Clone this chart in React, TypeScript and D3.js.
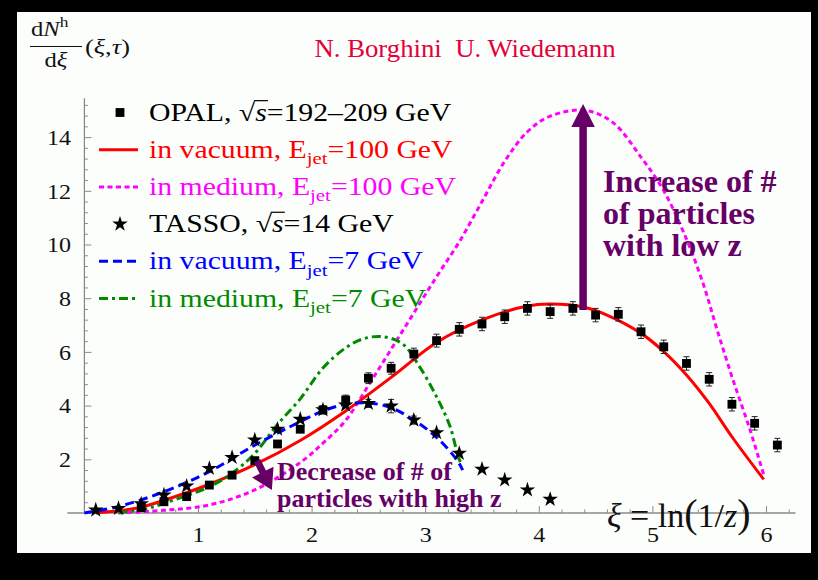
import { useEffect, useRef } from 'react';
import * as d3 from 'd3';

// OPAL, sqrt(s) = 192-209 GeV (squares)
const opalXi = [0.5, 0.7, 0.9, 1.1, 1.3, 1.5, 1.7, 1.9, 2.1, 2.3, 2.5, 2.7, 2.9, 3.1, 3.3, 3.5, 3.7, 3.9, 4.1, 4.3, 4.5, 4.7, 4.9, 5.1, 5.3, 5.5, 5.7, 5.9, 6.1];
const opalValues = [0.2, 0.42, 0.61, 1.04, 1.41, 1.95, 2.57, 3.12, 3.84, 4.21, 5.02, 5.39, 5.92, 6.42, 6.84, 7.04, 7.31, 7.62, 7.5, 7.62, 7.37, 7.4, 6.75, 6.19, 5.57, 4.98, 4.05, 3.34, 2.53];
const opalErrors = [0.05, 0.05, 0.05, 0.08, 0.08, 0.1, 0.1, 0.12, 0.15, 0.18, 0.2, 0.22, 0.22, 0.24, 0.25, 0.25, 0.25, 0.25, 0.25, 0.25, 0.25, 0.25, 0.25, 0.25, 0.25, 0.25, 0.25, 0.25, 0.25];

// TASSO, sqrt(s) = 14 GeV (stars)
const tassoXi = [0.1, 0.3, 0.5, 0.7, 0.9, 1.1, 1.3, 1.5, 1.7, 1.9, 2.1, 2.3, 2.5, 2.7, 2.9, 3.1, 3.3, 3.5, 3.7, 3.9, 4.1];
const tassoValues = [0.11, 0.17, 0.34, 0.67, 1.0, 1.66, 2.07, 2.72, 3.12, 3.49, 3.84, 4.02, 4.08, 3.98, 3.46, 2.99, 2.22, 1.63, 1.23, 0.86, 0.51];
const tassoErrors = [0, 0, 0, 0, 0, 0, 0, 0, 0, 0, 0.05, 0.1, 0.15, 0.25, 0.15, 0.1, 0, 0, 0, 0, 0];

// theory curves, [xi, dN/dxi]
const vacuum100: [number, number][] = [
  [0.1, 0.0], [0.3, 0.08], [0.5, 0.22], [0.7, 0.47], [1.1, 1.07], [1.5, 1.8], [1.9, 2.7], [2.3, 3.8],
  [2.7, 5.05], [3.1, 6.35], [3.5, 7.19], [3.9, 7.71], [4.1, 7.78], [4.4, 7.66], [4.6, 7.37], [4.9, 6.69],
  [5.1, 6.01], [5.3, 5.14], [5.5, 4.08], [5.7, 2.84], [5.98, 1.25],
];
const medium100: [number, number][] = [
  [0.3, 0.0], [0.7, 0.1], [1.1, 0.3], [1.5, 0.86], [1.9, 1.88], [2.1, 2.6], [2.3, 3.45], [2.5, 4.75],
  [2.7, 6.1], [2.9, 7.45], [3.1, 8.8], [3.3, 10.1], [3.5, 11.6], [3.7, 13.1], [3.9, 14.2], [4.1, 14.78],
  [4.4, 15.0], [4.65, 14.55], [4.9, 13.25], [5.1, 12.0], [5.3, 10.2], [5.45, 8.5], [5.57, 6.82],
  [5.71, 4.95], [5.86, 3.09], [5.98, 1.42],
];
const vacuum7: [number, number][] = [
  [0.0, 0.0], [0.3, 0.24], [0.7, 0.79], [1.1, 1.54], [1.5, 2.53], [1.9, 3.4], [2.1, 3.8], [2.3, 4.05],
  [2.5, 4.1], [2.7, 3.92], [2.9, 3.46], [3.1, 2.82], [3.28, 1.97], [3.33, 1.6],
];
const medium7: [number, number][] = [
  [0.3, 0.02], [0.5, 0.11], [0.7, 0.36], [1.1, 0.98], [1.3, 1.48], [1.5, 2.22], [1.7, 3.3], [1.9, 4.25],
  [2.1, 5.4], [2.3, 6.15], [2.45, 6.48], [2.62, 6.57], [2.8, 6.3], [2.95, 5.45], [3.1, 4.33],
  [3.22, 3.21], [3.29, 2.1], [3.31, 1.9],
];

const xTicks = [1, 2, 3, 4, 5, 6];
const yTicks = [2, 4, 6, 8, 10, 12, 14];

const W = 818;
const H = 580;
const serif = '"Liberation Serif", "Times New Roman", serif';
const purple = '#660066';
const sx = 1.2; // the original graphic is stretched sideways

type Seg = { t: string; italic?: boolean; sub?: boolean; sup?: boolean; root?: boolean };

const App = () => {
  const svgRef = useRef<SVGSVGElement | null>(null);

  useEffect(() => {
    if (!svgRef.current) return;
    const svg = d3.select(svgRef.current);
    svg.selectAll('*').remove();

    // frame
    svg.append('rect').attr('width', W).attr('height', H).attr('fill', '#000');
    svg.append('rect').attr('x', 17).attr('y', 12).attr('width', 794).attr('height', 541).attr('fill', '#fcfefc');

    const x = d3.scaleLinear().domain([0, 6]).range([84.4, 766]);
    const y = d3.scaleLinear().domain([0, 14]).range([513, 137.1]);

    // writes text pieces (sub/superscripts) into a text element
    const writeSegs = (text: d3.Selection<SVGTextElement, unknown, null, undefined>, segs: Seg[], size: number) => {
      let shift = 0;
      segs.forEach((s) => {
        const ts = text.append('tspan').text(s.t);
        if (s.italic) ts.attr('font-style', 'italic');
        let target = 0;
        if (s.sub) { target = size * 0.25; ts.attr('font-size', size * 0.7); }
        if (s.sup) { target = -size * 0.4; ts.attr('font-size', size * 0.7); }
        if (target !== shift) { ts.attr('dy', target - shift); shift = target; }
      });
    };

    const stretched = (px: number, py: number, size: number, color: string, segs: Seg[], opts: { anchor?: string; weight?: string; k?: number } = {}) => {
      const g = svg.append('g').attr('transform', `translate(${px},${py}) scale(${opts.k ?? sx},1)`);
      const text = g.append('text')
        .attr('font-family', serif)
        .attr('font-size', size)
        .attr('fill', color)
        .attr('text-anchor', opts.anchor ?? 'start')
        .attr('font-weight', opts.weight ?? 'normal');
      writeSegs(text, segs, size);
      // bar over the radicand
      const node = text.node() as SVGTextElement;
      let idx = 0;
      segs.forEach((s, i) => {
        if (s.root && segs[i + 1]) {
          const a = node.getExtentOfChar(idx);
          const b = node.getExtentOfChar(idx + 1);
          g.append('line')
            .attr('x1', a.x + a.width - 1).attr('x2', b.x + b.width + 1)
            .attr('y1', -size * 0.8).attr('y2', -size * 0.8)
            .attr('stroke', color).attr('stroke-width', 1.2);
        }
        idx += s.t.length;
      });
      return g;
    };

    // axes
    const axisColor = '#8a8a8a';
    svg.append('line')
      .attr('x1', x(-0.15)).attr('x2', x(6.26)).attr('y1', y(0)).attr('y2', y(0))
      .attr('stroke', axisColor).attr('stroke-width', 1.3);
    svg.append('line')
      .attr('x1', x(0)).attr('x2', x(0)).attr('y1', y(0)).attr('y2', y(15.45))
      .attr('stroke', axisColor).attr('stroke-width', 1.3);

    const xMinor = d3.range(1, 32).map((i) => i * 0.2).filter((v) => Math.abs(v - Math.round(v)) > 0.01);
    const yMinor = d3.range(1, 39).map((i) => i * 0.4).filter((v) => Math.abs(v / 2 - Math.round(v / 2)) > 0.01);

    const gxMinor = svg.append('g').attr('transform', `translate(0,${y(0)})`)
      .call(d3.axisBottom(x).tickValues(xMinor).tickSizeInner(-3.5).tickSizeOuter(0).tickFormat(() => ''));
    const gx = svg.append('g').attr('transform', `translate(0,${y(0)})`)
      .call(d3.axisBottom(x).tickValues(xTicks).tickSizeInner(-7).tickSizeOuter(0).tickPadding(14).tickFormat(d3.format('d')));
    const gyMinor = svg.append('g').attr('transform', `translate(${x(0)},0)`)
      .call(d3.axisLeft(y).tickValues(yMinor).tickSizeInner(-3.5).tickSizeOuter(0).tickFormat(() => ''));
    const gy = svg.append('g').attr('transform', `translate(${x(0)},0)`)
      .call(d3.axisLeft(y).tickValues(yTicks).tickSizeInner(-7).tickSizeOuter(0).tickPadding(11).tickFormat(d3.format('d')));

    [gxMinor, gx, gyMinor, gy].forEach((g) => {
      g.select('.domain').remove();
      g.selectAll('line').attr('stroke', axisColor).attr('stroke-width', 1);
      g.selectAll('text')
        .attr('font-family', serif)
        .attr('font-size', 21.5)
        .attr('fill', '#111')
        .attr('transform', `scale(1.12,1)`);
    });
    gy.selectAll('text').attr('x', -12).attr('dy', '0.34em');

    // curves
    const line = d3.line<[number, number]>()
      .x((d) => x(d[0]))
      .y((d) => y(d[1]))
      .curve(d3.curveCatmullRom.alpha(0.5));

    const curves = [
      { data: medium100, color: '#ff00ff', dash: '5,3.5' },
      { data: vacuum100, color: '#ff0000', dash: null },
      { data: medium7, color: '#008a00', dash: '9,4,3,4' },
      { data: vacuum7, color: '#0000ff', dash: '9,5' },
    ];
    curves.forEach((c) => {
      svg.append('path')
        .attr('d', line(c.data) as string)
        .attr('fill', 'none')
        .attr('stroke', c.color)
        .attr('stroke-width', 3)
        .attr('stroke-dasharray', c.dash);
    });

    // error bars + markers
    const errorBar = (xi: number, v: number, e: number) => {
      if (e <= 0) return;
      const g = svg.append('g').attr('stroke', '#222').attr('stroke-width', 1);
      g.append('line').attr('x1', x(xi)).attr('x2', x(xi)).attr('y1', y(v - e)).attr('y2', y(v + e));
      [v - e, v + e].forEach((yy) => {
        g.append('line').attr('x1', x(xi) - 3).attr('x2', x(xi) + 3).attr('y1', y(yy)).attr('y2', y(yy));
      });
    };

    const square = d3.symbol(d3.symbolSquare, 78);
    const star = d3.symbol(d3.symbolStar, 75);

    opalXi.forEach((xi, i) => errorBar(xi, opalValues[i], opalErrors[i]));
    svg.append('g').selectAll('path')
      .data(opalXi)
      .join('path')
      .attr('d', square() as string)
      .attr('transform', (d, i) => `translate(${x(d)},${y(opalValues[i])})`)
      .attr('fill', '#000');

    tassoXi.forEach((xi, i) => errorBar(xi, tassoValues[i], tassoErrors[i]));
    svg.append('g').selectAll('path')
      .data(tassoXi)
      .join('path')
      .attr('d', star() as string)
      .attr('transform', (d, i) => `translate(${x(d)},${y(tassoValues[i])})`)
      .attr('fill', '#000');

    // legend
    const legend = [
      { kind: 'square', color: '#000', dash: null, segs: [{ t: 'OPAL, ' }, { t: '\u221A', root: true }, { t: 's', italic: true }, { t: '=192\u2013209 GeV' }] },
      { kind: 'line', color: '#ff0000', dash: null, segs: [{ t: 'in vacuum, E' }, { t: 'jet', sub: true }, { t: '=100 GeV' }] },
      { kind: 'line', color: '#ff00ff', dash: '5,3.5', segs: [{ t: 'in medium, E' }, { t: 'jet', sub: true }, { t: '=100 GeV' }] },
      { kind: 'star', color: '#000', dash: null, segs: [{ t: 'TASSO, ' }, { t: '\u221A', root: true }, { t: 's', italic: true }, { t: '=14 GeV' }] },
      { kind: 'line', color: '#0000ff', dash: '9,5', segs: [{ t: 'in vacuum, E' }, { t: 'jet', sub: true }, { t: '=7 GeV' }] },
      { kind: 'line', color: '#008a00', dash: '9,4,3,4', segs: [{ t: 'in medium, E' }, { t: 'jet', sub: true }, { t: '=7 GeV' }] },
    ];
    legend.forEach((row, i) => {
      const base = 120.5 + i * 37.2;
      const cy = base - 8;
      if (row.kind === 'line') {
        svg.append('line')
          .attr('x1', 99).attr('x2', 138).attr('y1', cy).attr('y2', cy)
          .attr('stroke', row.color).attr('stroke-width', 3)
          .attr('stroke-dasharray', row.dash);
      } else {
        svg.append('path')
          .attr('d', (row.kind === 'square' ? square() : star()) as string)
          .attr('transform', `translate(120,${cy})`)
          .attr('fill', '#000');
      }
      stretched(149, base, 24.8, row.color, row.segs as Seg[]);
    });

    // y-axis label
    stretched(31, 36, 22, '#111', [{ t: 'd' }, { t: 'N', italic: true }, { t: 'h', sup: true }], { k: 1.12 });
    svg.append('line').attr('x1', 30).attr('x2', 82).attr('y1', 46.5).attr('y2', 46.5).attr('stroke', '#111').attr('stroke-width', 1);
    stretched(56, 67, 22, '#111', [{ t: 'd' }, { t: '\u03BE', italic: true }], { anchor: 'middle', k: 1.12 });
    stretched(85, 54, 22, '#111', [{ t: '(' }, { t: '\u03BE', italic: true }, { t: ',' }, { t: '\u03C4', italic: true }, { t: ')' }], { k: 1.2 });

    // title
    stretched(465, 57, 25.5, '#e4003a', [{ t: 'N. Borghini\u00A0\u00A0U. Wiedemann' }], { anchor: 'middle', k: 1.05 });

    // x-axis label
    const xl = svg.append('text').attr('x', 607).attr('y', 527).attr('font-family', serif).attr('font-size', 34).attr('fill', '#111');
    xl.append('tspan').attr('font-style', 'italic').text('\u03BE');
    xl.append('tspan').text(' = ln');
    xl.append('tspan').attr('font-size', 40).text('(');
    xl.append('tspan').text('1/');
    xl.append('tspan').attr('font-style', 'italic').text('z');
    xl.append('tspan').attr('font-size', 40).text(')');

    // annotations
    const arrowPath = (x0: number, y0: number, x1: number, y1: number, shaftW: number, headL: number, headW: number) => {
      const len = Math.hypot(x1 - x0, y1 - y0);
      const ux = (x1 - x0) / len;
      const uy = (y1 - y0) / len;
      const nx = -uy;
      const ny = ux;
      const bx = x1 - ux * headL;
      const by = y1 - uy * headL;
      const p = d3.path();
      p.moveTo(x0 + nx * shaftW / 2, y0 + ny * shaftW / 2);
      p.lineTo(bx + nx * shaftW / 2, by + ny * shaftW / 2);
      p.lineTo(bx + nx * headW / 2, by + ny * headW / 2);
      p.lineTo(x1, y1);
      p.lineTo(bx - nx * headW / 2, by - ny * headW / 2);
      p.lineTo(bx - nx * shaftW / 2, by - ny * shaftW / 2);
      p.lineTo(x0 - nx * shaftW / 2, y0 - ny * shaftW / 2);
      p.closePath();
      return p.toString();
    };

    svg.append('path')
      .attr('d', arrowPath(x(4.39), y(7.56), x(4.39), y(15.23), 7.5, 23, 23.5))
      .attr('fill', purple);
    svg.append('path')
      .attr('d', arrowPath(x(1.52), y(1.95), x(1.65), y(0.86), 7, 20, 24))
      .attr('fill', purple);

    const note = (px: number, py: number, size: number, lines: string[], gap: number) => {
      const t = svg.append('text')
        .attr('font-family', serif)
        .attr('font-weight', 'bold')
        .attr('font-size', size)
        .attr('fill', purple);
      lines.forEach((l, i) => {
        t.append('tspan').attr('x', px).attr('y', py + i * gap).text(l);
      });
    };
    note(603, 191.5, 32, ['Increase of #', 'of particles', 'with low z'], 32);
    note(277, 480, 26, ['Decrease of # of', 'particles with high z'], 26.5);
  }, []);

  return <svg ref={svgRef} width={W} height={H} style={{ position: 'absolute', left: 0, top: 0 }} />;
};

export default App;
